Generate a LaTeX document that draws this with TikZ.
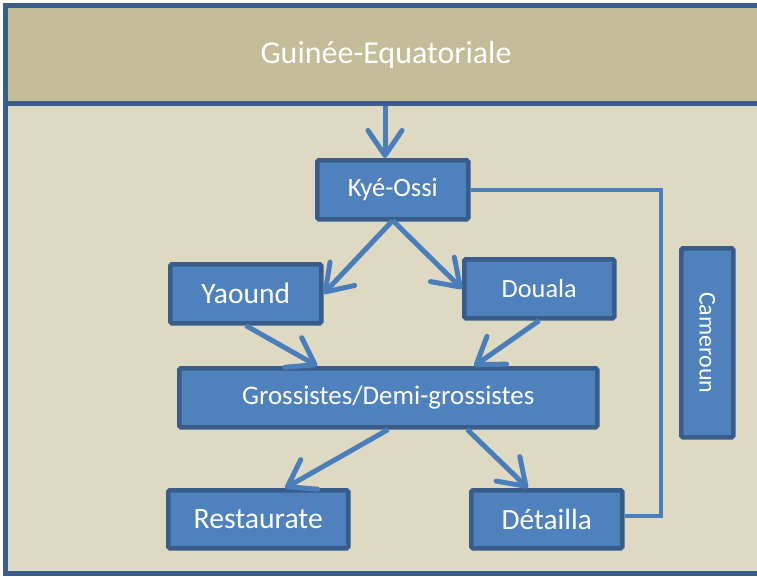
\documentclass[tikz,border=0pt]{standalone}
\usepackage{fontspec}
\setmainfont{Carlito}
\usetikzlibrary{arrows.meta,calc}
\definecolor{frame}{HTML}{3A5E8B}
\definecolor{bandtop}{HTML}{C4BD97}
\definecolor{bandlow}{HTML}{DDD9C3}
\definecolor{boxfill}{HTML}{4F81BD}
\definecolor{boxline}{HTML}{385D8A}
\definecolor{conn}{HTML}{4A7EBB}
\tikzset{
  box/.style={draw=boxline,fill=boxfill,line width=4.5pt,rounded corners=1.5pt,text=white,inner sep=0pt,anchor=north west},
  arr/.style={draw=conn,line width=5pt,-{Straight Barb[length=25pt,width=34pt,line width=5pt,round]}},
  link/.style={draw=conn,line width=4pt},
}
\begin{document}
\begin{tikzpicture}[x=1pt,y=-1pt]
\useasboundingbox (0,0) rectangle (757,576);
\clip (0,0) rectangle (757,576);
% background bands
\fill[bandtop] (5,5) rectangle (770,103);
\fill[bandlow] (5,103) rectangle (770,573);
\draw[frame,line width=5pt] (5,5) rectangle (770,573);
\draw[frame,line width=5pt] (5,103) -- (770,103);
\node[text=white,font=\fontsize{32}{36}\selectfont] (banner) at (386,55) {Guinée-Equatoriale};
% boxes
\node[box,minimum width=151pt,minimum height=59pt,font=\fontsize{26.5}{30}\selectfont] (kye) at (315,158) {Kyé-Ossi};
\node[box,minimum width=151pt,minimum height=59pt,font=\fontsize{29.5}{33}\selectfont] (yao) at (168,262) {Yaound};
\node[box,minimum width=150pt,minimum height=59pt,font=\fontsize{26.3}{30}\selectfont] (dou) at (462,257) {Douala};
\node[box,minimum width=418pt,minimum height=59pt,font=\fontsize{26.9}{30}\selectfont] (gro) at (177,366) {Grossistes/Demi-grossistes};
\node[box,minimum width=180pt,minimum height=58pt,font=\fontsize{29.7}{33}\selectfont] (res) at (166,488) {Restaurate};
\node[box,minimum width=151pt,minimum height=58pt,font=\fontsize{29.3}{33}\selectfont] (det) at (469,488) {Détailla};
\node[box,minimum width=52pt,minimum height=189pt] (cam) at (679,246) {};
\node[text=white,rotate=-90,font=\fontsize{24}{28}\selectfont] (camt) at (cam.center) {Cameroun};
% connectors
\coordinate (topin) at (385,106);
\draw[arr] (topin) -- (topin |- kye.north);
\draw[arr] ($(kye.south)+(0,-1)$) -- (yao.east);
\draw[arr] ($(kye.south)+(0,-1)$) -- (dou.west);
\draw[arr] (yao.south) -- ($(gro.north)+(-71,0)$);
\draw[arr] (dou.south) -- ($(gro.north)+(86,0)$);
\draw[arr] (gro.south) -- ($(res.north)+(27,0)$);
\draw[arr] ($(gro.south)+(79,0)$) -- ($(det.north)+(-19,0)$);
\coordinate (corner) at (661,516);
\draw[link] (kye.east) -| (corner) -- (corner -| det.east);
\end{tikzpicture}
\end{document}
